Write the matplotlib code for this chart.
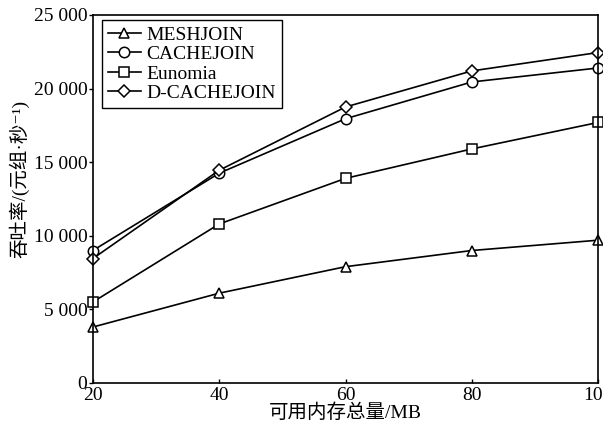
import matplotlib
matplotlib.use('Agg')
import matplotlib.pyplot as plt
from matplotlib.ticker import FuncFormatter

plt.rcParams['font.family'] = ['Liberation Serif', 'Noto Sans CJK SC', 'DejaVu Sans']
plt.rcParams['axes.unicode_minus'] = False

# 数据
memory = [20, 40, 60, 80, 100]
meshjoin = [3800, 6100, 7900, 9000, 9700]
cachejoin = [9000, 14250, 17950, 20450, 21400]
eunomia = [5500, 10800, 13900, 15900, 17700]
d_cachejoin = [8450, 14450, 18750, 21200, 22450]

series = [
    ('MESHJOIN', meshjoin, '^', 7.5),
    ('CACHEJOIN', cachejoin, 'o', 7.5),
    ('Eunomia', eunomia, 's', 6.5),
    ('D-CACHEJOIN', d_cachejoin, 'D', 6),
]

fig = plt.figure(figsize=(6.03, 4.23), dpi=100)
ax = fig.add_axes([0.154, 0.0946, 0.838, 0.87])

for name, vals, mk, ms in series:
    ax.plot(memory, vals, color='black', lw=1.2, marker=mk, ms=ms,
            mfc='white', mec='black', mew=1.1, label=name, clip_on=False)

ax.set_xlim(20, 100)
ax.set_ylim(0, 25000)
ax.set_xticks(memory)
ax.set_yticks(range(0, 25001, 5000))
ax.yaxis.set_major_formatter(FuncFormatter(lambda v, p: f'{int(v):,}'.replace(',', ' ')))
ax.tick_params(axis='x', direction='in', length=3, width=1, labelsize=14, pad=3)
ax.tick_params(axis='y', direction='out', length=3, width=1, labelsize=14, pad=1)

for sp in ax.spines.values():
    sp.set_linewidth(1.2)

ax.set_xlabel('可用内存总量/MB', fontsize=14)
ax.xaxis.set_label_coords(0.5, -0.055)
ax.set_ylabel('吞吐率/(元组·秒⁻¹)', fontsize=14)
ax.yaxis.set_label_coords(-0.125, 0.554)

leg = ax.legend(loc='upper left', bbox_to_anchor=(0.018, 0.986), borderaxespad=0,
                fontsize=14, handlelength=1.7, handletextpad=0.3, labelspacing=0.1,
                borderpad=0.3, fancybox=False, edgecolor='black', framealpha=1)
leg.get_frame().set_linewidth(1.0)

fig.savefig('out.png', dpi=100)
